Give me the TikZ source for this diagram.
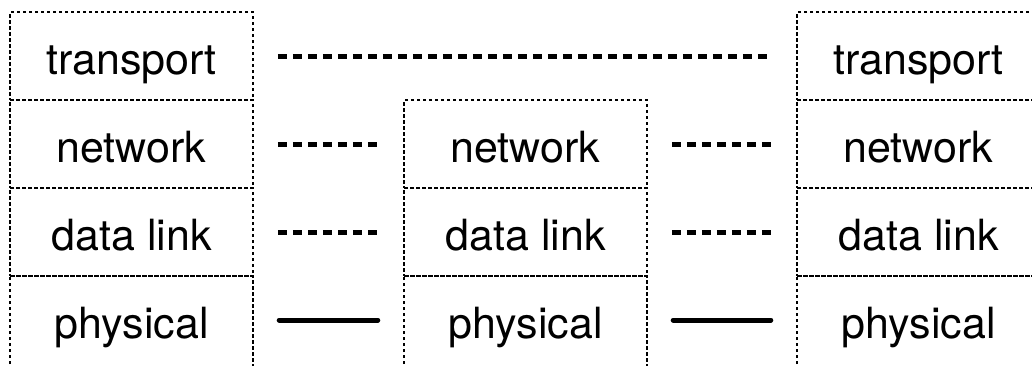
\documentclass[tikz,border=0pt]{standalone}
\usepackage{fontspec}
\setmainfont{TeX Gyre Heros}

\begin{document}
\begin{tikzpicture}[x=1pt,y=-1pt]
    \tikzstyle{every node}+=[inner sep=0pt, font=\fontsize{43}{50}\selectfont, text height=36pt, text depth=0pt]
    \tikzstyle{frame}=[line width=1.5pt, dash pattern=on 3.5pt off 2.5pt]
    \tikzstyle{layer}=[frame, draw, minimum width=243pt, minimum height=88pt]
    \tikzstyle{open}=[minimum width=243pt, minimum height=88pt]
    \tikzstyle{peer}=[line width=5pt, dash pattern=on 9pt off 6pt, shorten <=24pt, shorten >=24pt]
    \tikzstyle{wire}=[line width=5pt, line cap=round, shorten <=26pt, shorten >=26pt]
    \useasboundingbox (0,0) rectangle (1032,365);
    \clip (0,0) rectangle (1032,365);
    % left host
    \node [layer] (lt) at (131.5,56) {transport};
    \node [layer] (ln) at (131.5,144) {network};
    \node [layer] (ld) at (131.5,232) {data link};
    \node [open] (lp) at (131.5,320) {physical};
    % router
    \node [layer] (mn) at (525.5,144) {network};
    \node [layer] (md) at (525.5,232) {data link};
    \node [open] (mp) at (525.5,320) {physical};
    % right host
    \node [layer] (rt) at (918.5,56) {transport};
    \node [layer] (rn) at (918.5,144) {network};
    \node [layer] (rd) at (918.5,232) {data link};
    \node [open] (rp) at (918.5,320) {physical};
    % physical boxes run off the bottom
    \draw [frame] ([yshift=-12pt]lp.south west) -- (lp.north west) -- (lp.north east) -- ([yshift=-12pt]lp.south east);
    \draw [frame] ([yshift=-12pt]mp.south west) -- (mp.north west) -- (mp.north east) -- ([yshift=-12pt]mp.south east);
    \draw [frame] ([yshift=-12pt]rp.south west) -- (rp.north west) -- (rp.north east) -- ([yshift=-12pt]rp.south east);
    % peer links
    \draw [peer] (lt.east) -- (rt.west);
    \draw [peer] (ln.east) -- (mn.west);
    \draw [peer] (mn.east) -- (rn.west);
    \draw [peer] (ld.east) -- (md.west);
    \draw [peer] (md.east) -- (rd.west);
    \draw [wire] (lp.east) -- (mp.west);
    \draw [wire] (mp.east) -- (rp.west);
\end{tikzpicture}
\end{document}
